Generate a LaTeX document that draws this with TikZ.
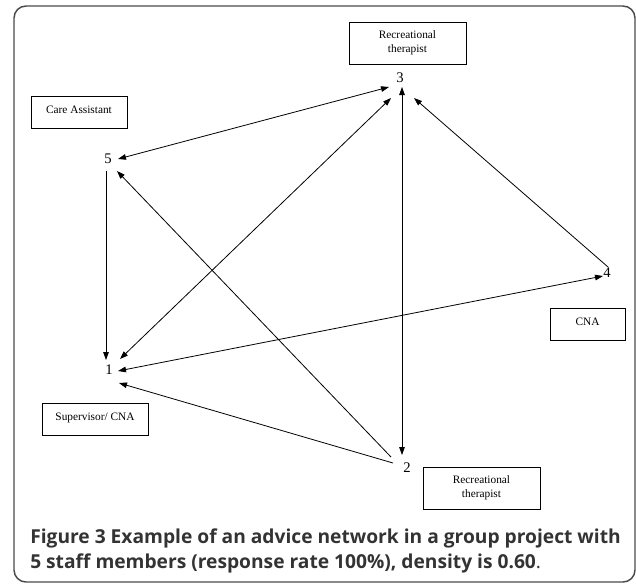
\documentclass[tikz,border=0pt]{standalone}
\usepackage{fontspec}
\setmainfont{Liberation Serif}
\newfontfamily\capfont{Open Sans}
\usetikzlibrary{calc,arrows.meta}
\def\px{0.75pt}
\definecolor{framegray}{HTML}{4A4A4A}
\definecolor{captext}{HTML}{333333}
\begin{document}
\begin{tikzpicture}[x=0.75pt,y=-0.75pt,
  num/.style={font=\fontsize{11}{13}\selectfont, inner sep=0pt},
  rolebox/.style={draw, line width=0.6pt, font=\fontsize{8.5}{10.5}\selectfont, align=center, inner sep=0pt},
  tip/.tip={Triangle[length=6pt,width=4.2pt]},
  onearrow/.style={line width=0.6pt, -tip},
  twoarrow/.style={line width=0.6pt, tip-tip},
  capline/.style={anchor=base west, inner sep=0pt, text=captext, font=\capfont\bfseries\fontsize{14.4}{18}\selectfont}]
\useasboundingbox (0,0) rectangle (636,583);
\draw[framegray, line width=1.1pt, rounded corners=9pt] (14,6) rectangle (635,582);

% role boxes
\node (b3) [rolebox, minimum width=117*\px, minimum height=42*\px] at (407.5,43) {\raisebox{2.2pt}{\shortstack{Recreational\\[1pt]therapist}}};
\node (b5) [rolebox, minimum width=96*\px, minimum height=32*\px] at (79,112) {\raisebox{3pt}{Care Assistant}};
\node (b1) [rolebox, minimum width=106*\px, minimum height=32*\px] at (95,419) {\raisebox{3pt}{Supervisor/ CNA}};
\node (b2) [rolebox, minimum width=117*\px, minimum height=42*\px] at (481.5,488) {\raisebox{2.2pt}{\shortstack{Recreational\\[1pt]therapist}}};
\node (b4) [rolebox, minimum width=75*\px, minimum height=32*\px] at (587.5,324) {\raisebox{3pt}{CNA}};

% numbered actors
\node (n3) [num] at (400,78) {3};
\node (n5) [num] at (108,159) {5};
\node (n4) [num] at (607,273) {4};
\node (n1) [num] at (109,370) {1};
\node (n2) [num] at (407,468) {2};

% ties
\draw[twoarrow] ($(n5)+(10,0)$) -- ($(n3)+(-11,9)$);
\draw[twoarrow] ($(n1)+(11,-11)$) -- ($(n3)+(-9,20)$);
\draw[twoarrow] ($(n3)+(2,9)$) -- ($(n2)+(-5,-13)$);
\draw[onearrow] ($(n4)+(1,-6)$) -- ($(n3)+(14,20)$);
\draw[onearrow] ($(n2)+(-16,-11)$) -- ($(n5)+(9,12)$);
\draw[onearrow] ($(n5)+(-2,12)$) -- ($(n1)+(-3,-10)$);
\draw[twoarrow] ($(n1)+(9,1)$) -- ($(n4)+(-4,3)$);
\draw[onearrow] ($(n2)+(-14,-5)$) -- ($(n1)+(10,13)$);

% caption
\node (cap1) [capline] at (30,543) {Figure 3 Example of an advice network in a group project with};
\node (cap2) [capline] at (30,568) {5 staff members (response rate 100\%), density is 0.60\textmd{.}};
\end{tikzpicture}
\end{document}
